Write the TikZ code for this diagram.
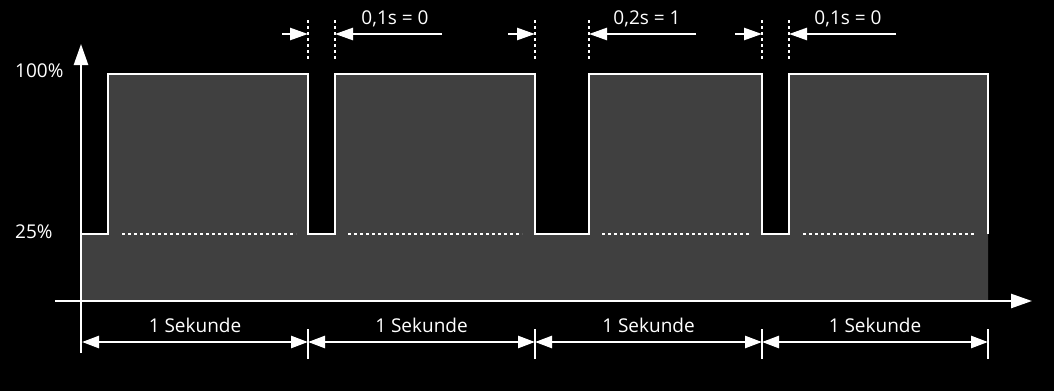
\documentclass[tikz,border=0pt]{standalone}
\usepackage{fontspec}
\setmainfont{Open Sans}
\usetikzlibrary{arrows.meta,calc}
\begin{document}
\begin{tikzpicture}[x=1pt,y=-1pt,
  lbl/.style={text=white,font=\fontsize{19}{21}\selectfont,inner sep=0pt},
  wave/.style={white,line width=2.5pt,line join=miter},
  dots/.style={white,line width=2.5pt,dash pattern=on 2.5pt off 3.5pt},
  axisline/.style={white,line width=2.5pt,-{Triangle[length=21pt,width=14pt]}},
  dimline/.style={white,line width=2.5pt,{Triangle[length=17pt,width=12pt]}-{Triangle[length=17pt,width=12pt]}},
  pointer/.style={white,line width=2.5pt,-{Triangle[length=18pt,width=12pt]}},
  tick/.style={white,line width=2.5pt}
]
\fill[black] (0,0) rectangle (1054,391);
\useasboundingbox (0,0) rectangle (1054,391);
% named points
\coordinate (t0) at (82,342);
\coordinate (t1) at (308,342);
\coordinate (t2) at (535,342);
\coordinate (t3) at (762,342);
\coordinate (t4) at (988,342);
% gray area
\fill[fill={rgb,255:red,64;green,64;blue,64}] (81,301) -- (81,234) -- (108,234) -- (108,74) -- (308,74) -- (308,234) -- (335,234) -- (335,74) -- (535,74) -- (535,234) -- (589,234) -- (589,74) -- (762,74) -- (762,234) -- (789,234) -- (789,74) -- (988,74) -- (988,301) -- cycle;
% waveform
\draw[wave] (81,234) -- (108,234) -- (108,74) -- (308,74) -- (308,234) -- (335,234) -- (335,74) -- (535,74) -- (535,234) -- (589,234) -- (589,74) -- (762,74) -- (762,234) -- (789,234) -- (789,74) -- (988,74) -- (988,234);
% dotted 25% lines
\draw[dots] (122,234) -- (296,234);
\draw[dots] (348,234) -- (522,234);
\draw[dots] (602,234) -- (749,234);
\draw[dots] (803,234) -- (976,234);
% axes
\coordinate (ybot) at (81,353);
\coordinate (ytop) at (81,44);
\coordinate (xleft) at (55,301);
\coordinate (xright) at (1032,301);
\draw[axisline] (ybot) -- (ytop);
\draw[axisline] (xleft) -- (xright);
\node[lbl,anchor=base west] (l100) at (15,77) {100\%};
\node[lbl,anchor=base west] (l25) at (15,238) {25\%};
% bottom dimension
\foreach \i in {1,2,3,4}{
  \draw[tick] ([yshift=-17pt]t\i) -- ([yshift=13pt]t\i);
}
\foreach \a/\b in {t0/t1,t1/t2,t2/t3,t3/t4}{
  \draw[dimline] (\a) -- (\b);
  \node[lbl,anchor=base] at ($(\a)!0.5!(\b)+(0,-10)$) {1 Sekunde};
}
% top markers
\foreach \x in {308,335,535,589,762,789}{
  \draw[dots] (\x,20) -- (\x,61);
}
\coordinate (a1) at (282,34); \coordinate (b1) at (308,34);
\coordinate (c1) at (442,34); \coordinate (d1) at (335,34);
\coordinate (a2) at (508,34); \coordinate (b2) at (535,34);
\coordinate (c2) at (696,34); \coordinate (d2) at (589,34);
\coordinate (a3) at (735,34); \coordinate (b3) at (762,34);
\coordinate (c3) at (896,34); \coordinate (d3) at (789,34);
\draw[pointer] (a1) -- (b1);
\draw[pointer] (c1) -- (d1);
\draw[pointer] (a2) -- (b2);
\draw[pointer] (c2) -- (d2);
\draw[pointer] (a3) -- (b3);
\draw[pointer] (c3) -- (d3);
\node[lbl,anchor=base] (n1) at (395,24) {0,1s = 0};
\node[lbl,anchor=base] (n2) at (647,24) {0,2s = 1};
\node[lbl,anchor=base] (n3) at (848,24) {0,1s = 0};
\end{tikzpicture}
\end{document}
